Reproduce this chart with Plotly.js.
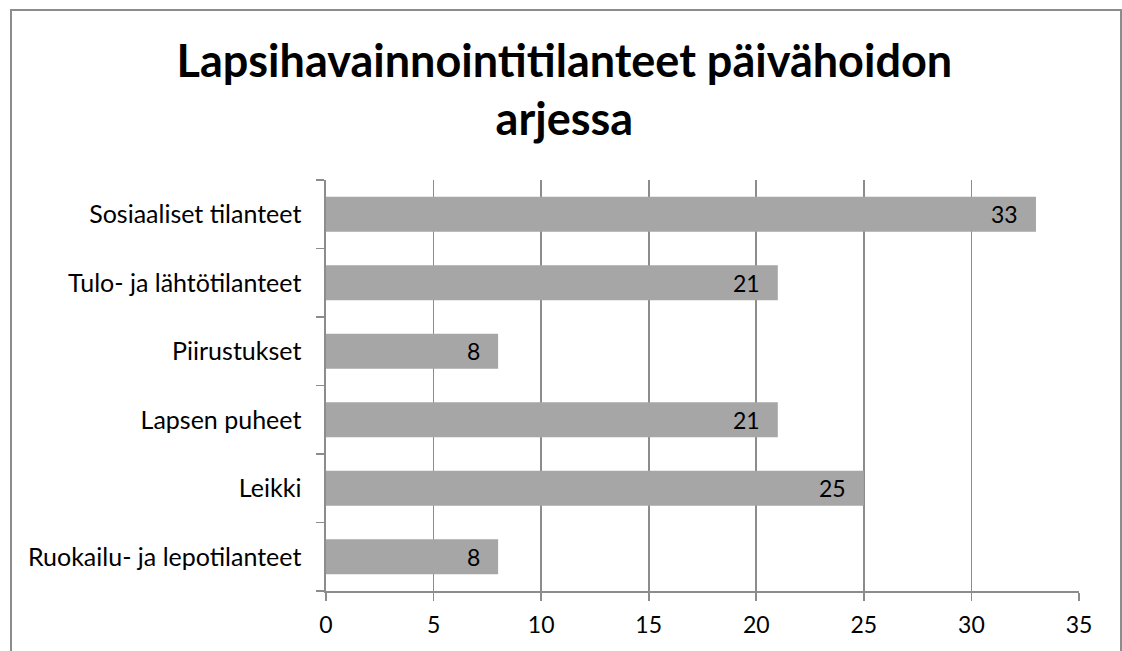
<!DOCTYPE html>
<html>
<head>
<meta charset="utf-8">
<script src="https://cdn.plot.ly/plotly-3.0.1.min.js"></script>
<style>html,body{margin:0;padding:0;background:#fff;}#chart{width:1122px;height:651px;}</style>
</head>
<body>
<div id="chart"></div>
<script>
const categories = ["Ruokailu- ja lepotilanteet", "Leikki", "Lapsen puheet", "Piirustukset", "Tulo- ja lähtötilanteet", "Sosiaaliset tilanteet"];
const values = [8, 25, 21, 8, 21, 33];
const xTicks = [0, 5, 10, 15, 20, 25, 30, 35];
const titleText = "Lapsihavainnointitilanteet päivähoidon<br>arjessa";

const FONT = "Lato, 'Open Sans', sans-serif";
const L = 326, R = 43, T = 180, B = 60, W = 1122, H = 651;
const pw = W - L - R, ph = H - T - B;
const px2x = p => (p - L) / pw;
const py2y = p => (H - B - p) / ph;

const trace = {
  type: "bar",
  orientation: "h",
  y: categories,
  x: values,
  marker: {color: "#A6A6A6", line: {width: 0}},
  textposition: "none",
  cliponaxis: false,
  hoverinfo: "none"
};

const labelAnnotations = categories.map((c, i) => ({
  x: values[i], y: c, xref: "x", yref: "y",
  text: String(values[i]),
  showarrow: false, xanchor: "right", yanchor: "middle",
  xshift: -16, yshift: 0,
  font: {family: FONT, size: 23, color: "#000"}
}));

const layout = {
  width: W, height: H,
  margin: {l: L, r: R, t: T, b: B, pad: 0},
  paper_bgcolor: "#fff",
  plot_bgcolor: "#fff",
  showlegend: false,
  bargap: 0.49,
  title: {
    text: titleText,
    font: {family: FONT, size: 45, color: "#000", weight: "bold"},
    x: 0.503, xanchor: "center",
    y: 0.882, yanchor: "middle"
  },
  xaxis: {
    range: [0, 35],
    tickvals: xTicks,
    ticktext: xTicks.map(String),
    showgrid: true, gridcolor: "#8C8C8C", gridwidth: 1.6,
    showline: true, linecolor: "#8C8C8C", linewidth: 1.6,
    ticks: "outside", ticklen: 8, tickcolor: "#8C8C8C", tickwidth: 1.6,
    tickfont: {family: FONT, size: 23, color: "#000"},
    ticklabelstandoff: 5,
    zeroline: false, fixedrange: true
  },
  yaxis: {
    type: "category",
    categoryorder: "array", categoryarray: categories,
    tickson: "boundaries",
    showgrid: false,
    showline: true, linecolor: "#8C8C8C", linewidth: 1.6,
    ticks: "outside", ticklen: 8, tickcolor: "#8C8C8C", tickwidth: 1.6,
    tickfont: {family: FONT, size: 25, color: "#000"},
    ticklabelstandoff: 18,
    zeroline: false, fixedrange: true
  },
  annotations: labelAnnotations,
  shapes: [{
    type: "rect", xref: "paper", yref: "paper",
    x0: px2x(11), x1: px2x(1121), y0: py2y(700), y1: py2y(10),
    line: {color: "#8C8C8C", width: 2}, fillcolor: "rgba(0,0,0,0)", layer: "below"
  }]
};

Plotly.newPlot("chart", [trace], layout, {staticPlot: true, displayModeBar: false});
</script>
</body>
</html>
